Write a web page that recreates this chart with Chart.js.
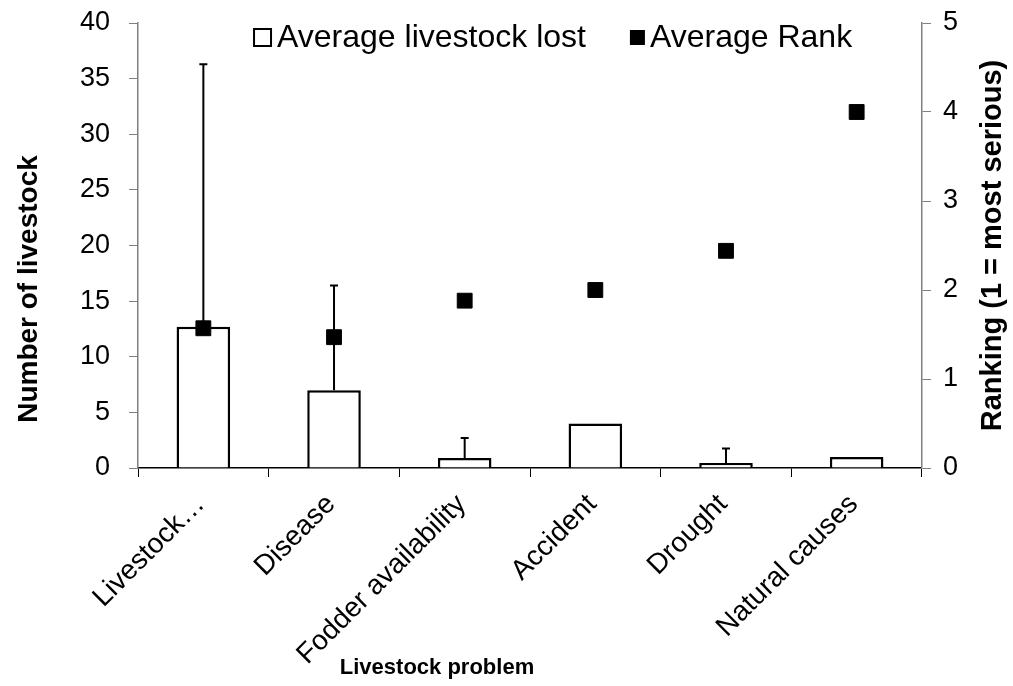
<!DOCTYPE html>
<html>
<head>
<meta charset="utf-8">
<script src="https://cdn.jsdelivr.net/npm/chart.js@4"></script>
<style>
  body { margin: 0; background: #fff; }
  #wrap { width: 1013px; height: 686px; }
</style>
</head>
<body>
<div id="wrap"><canvas id="c"></canvas></div>
<script>
// values
const problems = ["Livestock\u2026", "Disease", "Fodder availability", "Accident", "Drought", "Natural causes"];
const avgLost = [12.7, 7.0, 0.9, 4.0, 0.45, 1.0];
const errUpper = [23.6, 9.4, 1.8, 0, 1.3, 0];
const avgRank = [1.57, 1.47, 1.88, 2.0, 2.44, 4.0];

const FONT = "'Liberation Sans', Arial, sans-serif";
const xTitle = 'Livestock problem';
const leftTitle = 'Number of livestock';
const rightTitle = 'Ranking (1 = most serious)';

// upper error whiskers, drawn right after the bars so the rank squares sit on top
const errorBars = {
  id: 'errorBars',
  afterDatasetDraw(chart, args) {
    if (args.index !== 0) return;
    const ctx = chart.ctx;
    const yScale = chart.scales.y;
    ctx.save();
    ctx.strokeStyle = '#000';
    ctx.lineWidth = 2;
    args.meta.data.forEach((bar, i) => {
      if (!errUpper[i]) return;
      const yTop = yScale.getPixelForValue(avgLost[i] + errUpper[i]);
      ctx.beginPath();
      ctx.moveTo(bar.x, bar.y);
      ctx.lineTo(bar.x, yTop);
      ctx.moveTo(bar.x - 4, yTop);
      ctx.lineTo(bar.x + 4, yTop);
      ctx.stroke();
    });
    ctx.restore();
  }
};

function vText(ctx, text, x, y) {
  ctx.save();
  ctx.translate(x, y);
  ctx.rotate(-Math.PI / 2);
  ctx.fillText(text, 0, 0);
  ctx.restore();
}

// legend inside the plot and the three axis titles, placed like the Excel original
const extras = {
  id: 'extras',
  afterDraw(chart) {
    const ctx = chart.ctx;
    const area = chart.chartArea;
    ctx.save();
    ctx.font = '32px ' + FONT;
    ctx.textBaseline = 'middle';
    ctx.textAlign = 'left';
    const cy = area.top + 14;
    let x = area.left + 115;
    chart.data.datasets.forEach((ds, i) => {
      if (i === 0) {
        ctx.strokeStyle = '#000';
        ctx.lineWidth = 2;
        ctx.strokeRect(x + 1, cy - 8, 17, 17);
        x += 19;
      } else {
        ctx.fillStyle = '#000';
        ctx.fillRect(x, cy - 7, 15, 15);
        x += 15;
      }
      ctx.fillStyle = '#000';
      ctx.fillText(ds.label, x + 5, cy + 1);
      x += 5 + ctx.measureText(ds.label).width + 44;
    });

    ctx.textAlign = 'center';
    ctx.font = 'bold 22px ' + FONT;
    ctx.fillText(xTitle, 437, 668);
    ctx.font = 'bold 28px ' + FONT;
    vText(ctx, leftTitle, 29, 289);
    ctx.font = 'bold 29px ' + FONT;
    vText(ctx, rightTitle, 993, (area.top + area.bottom) / 2);
    ctx.restore();
  }
};

const tickFont = { family: FONT, size: 27 };
// let the layout padding alone decide where the plot's top edge sits
const noTopPad = (scale) => { scale.paddingTop = 0; };

new Chart(document.getElementById('c'), {
  data: {
    labels: problems,
    datasets: [{
      type: 'bar',
      label: 'Average livestock lost',
      data: avgLost,
      yAxisID: 'y',
      backgroundColor: '#fff',
      borderColor: '#000',
      borderWidth: 2.5,
      barPercentage: 0.41,
      categoryPercentage: 1,
      order: 2
    }, {
      type: 'line',
      label: 'Average Rank',
      data: avgRank,
      yAxisID: 'y1',
      showLine: false,
      pointStyle: 'rect',
      pointRadius: 10.5,
      backgroundColor: '#000',
      borderColor: '#000',
      order: 1
    }]
  },
  options: {
    responsive: true,
    maintainAspectRatio: false,
    animation: false,
    layout: { padding: { left: 61, right: 43, top: 23, bottom: 0 } },
    plugins: {
      tooltip: { enabled: false },
      legend: { display: false }
    },
    scales: {
      x: {
        afterFit(scale) { scale.height = 218; scale.paddingTop = 0; },
        grid: { drawOnChartArea: false, color: '#000', tickLength: 9, offset: true },
        border: { color: '#000', width: 1.5 },
        ticks: { color: '#000', font: { family: FONT, size: 28 }, maxRotation: 45, minRotation: 45, padding: 11, labelOffset: -3 }
      },
      y: {
        position: 'left',
        min: 0, max: 40,
        afterFit: noTopPad,
        grid: { drawOnChartArea: false, color: '#808080', tickLength: 9 },
        border: { color: '#808080', width: 1.5 },
        ticks: { stepSize: 5, color: '#000', font: tickFont, padding: 19 }
      },
      y1: {
        position: 'right',
        min: 0, max: 5,
        afterFit: noTopPad,
        grid: { drawOnChartArea: false, color: '#808080', tickLength: 9 },
        border: { color: '#808080', width: 1.5 },
        ticks: { stepSize: 1, color: '#000', font: tickFont, padding: 12 }
      }
    }
  },
  plugins: [errorBars, extras]
});
</script>
</body>
</html>
